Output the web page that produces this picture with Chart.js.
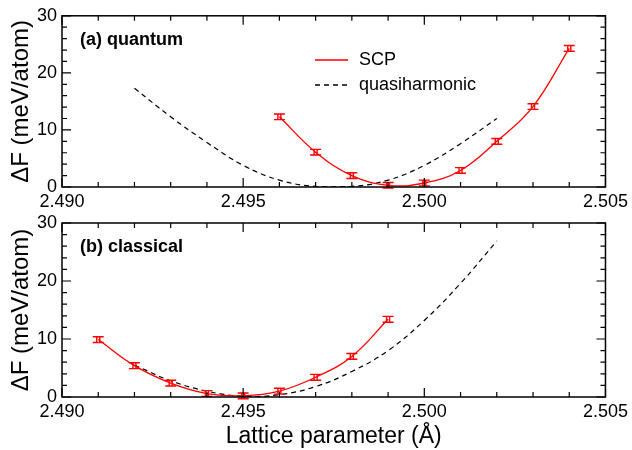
<!DOCTYPE html>
<html>
<head>
<meta charset="utf-8">
<script src="https://cdn.jsdelivr.net/npm/chart.js@4"></script>
<style>
  body { margin: 0; background: #fff; }
  #wrap { position: relative; width: 632px; height: 450px; }
  canvas { position: absolute; left: 0; top: 0; }
</style>
</head>
<body>
<div id="wrap">
  <canvas id="quantumChart" width="632" height="450"></canvas>
  <canvas id="classicalChart" width="632" height="450"></canvas>
</div>
<script>
// (a) quantum: SCP points with error bars, quasiharmonic curve
const latticeQuantum = [2.496, 2.497, 2.498, 2.499, 2.500, 2.501, 2.502, 2.503, 2.504];
const scpQuantum = [12.3, 6.1, 2.0, 0.3, 0.7, 2.9, 8.0, 14.1, 24.3];
const scpQuantumErr = [0.5, 0.5, 0.5, 0.5, 0.5, 0.5, 0.5, 0.5, 0.5];
const qhLatticeQuantum = [2.492, 2.493, 2.494, 2.495, 2.496, 2.497, 2.498, 2.499, 2.500, 2.501, 2.502];
const qhQuantum = [17.3, 12.3, 7.8, 3.8, 1.2, 0.1, 0.1, 1.2, 3.8, 7.6, 12.0];

// (b) classical
const latticeClassical = [2.491, 2.492, 2.493, 2.494, 2.495, 2.496, 2.497, 2.498, 2.499];
const scpClassical = [9.9, 5.4, 2.4, 0.6, 0.2, 1.0, 3.4, 7.0, 13.4];
const scpClassicalErr = [0.5, 0.5, 0.5, 0.5, 0.5, 0.5, 0.5, 0.5, 0.5];
const qhLatticeClassical = [2.492, 2.493, 2.494, 2.495, 2.496, 2.497, 2.498, 2.499, 2.500, 2.501, 2.502];
const qhClassical = [5.5, 2.8, 1.0, 0.15, 0.4, 1.8, 4.4, 8.0, 13.2, 19.6, 26.9];

const legendLabels = ['SCP', 'quasiharmonic'];
const panelLabels = ['(a) quantum', '(b) classical'];
const xTitle = 'Lattice parameter (Å)';
const yTitle = 'ΔF (meV/atom)';

const FONT = "'Liberation Sans', Arial, Helvetica, sans-serif";

function toPoints(xs, ys) {
    return xs.map((x, i) => ({ x: x, y: ys[i] }));
}

function isMajorX(v) {
    return Math.round(v * 1000) % 5 === 0;
}

// draws frame, inward ticks, error bars, panel label and legend
const decorPlugin = {
    id: 'decor',
    afterDatasetsDraw(chart, args, opts) {
        const ctx = chart.ctx;
        const a = chart.chartArea;
        const xs = chart.scales.x;
        const ys = chart.scales.y;
        ctx.save();

        // error bars on the SCP dataset
        const ds = chart.data.datasets[0];
        ctx.strokeStyle = '#ff0000';
        ctx.lineWidth = 1.4;
        ds.data.forEach((p, i) => {
            const px = xs.getPixelForValue(p.x);
            const top = ys.getPixelForValue(p.y + opts.err[i]);
            const bot = ys.getPixelForValue(p.y - opts.err[i]);
            ctx.beginPath();
            ctx.moveTo(px - 5.5, top); ctx.lineTo(px + 5.5, top);
            ctx.moveTo(px - 5.5, bot); ctx.lineTo(px + 5.5, bot);
            ctx.moveTo(px - 1.5, top); ctx.lineTo(px - 1.5, bot);
            ctx.moveTo(px + 1.5, top); ctx.lineTo(px + 1.5, bot);
            ctx.stroke();
        });

        // frame
        ctx.strokeStyle = '#000';
        ctx.lineWidth = 1.5;
        ctx.strokeRect(a.left, a.top, a.right - a.left, a.bottom - a.top);

        // inward ticks on all four sides
        ctx.lineWidth = 1.2;
        ctx.beginPath();
        xs.ticks.forEach(t => {
            const px = xs.getPixelForValue(t.value);
            const len = isMajorX(t.value) ? 9 : 5;
            ctx.moveTo(px, a.bottom); ctx.lineTo(px, a.bottom - len);
            ctx.moveTo(px, a.top); ctx.lineTo(px, a.top + len);
        });
        ys.ticks.forEach(t => {
            const py = ys.getPixelForValue(t.value);
            const len = Math.round(t.value) % 10 === 0 ? 9 : 5;
            ctx.moveTo(a.left, py); ctx.lineTo(a.left + len, py);
            ctx.moveTo(a.right, py); ctx.lineTo(a.right - len, py);
        });
        ctx.stroke();

        // panel label
        ctx.fillStyle = '#000';
        ctx.font = 'bold 18px ' + FONT;
        ctx.textBaseline = 'middle';
        ctx.textAlign = 'left';
        ctx.fillText(opts.label, a.left + 18, a.top + 24);

        // legend
        if (opts.legend) {
            ctx.font = '18px ' + FONT;
            const lx = 315, ly = 60;
            ctx.lineWidth = 1.3;
            ctx.strokeStyle = '#ff0000';
            ctx.beginPath(); ctx.moveTo(lx, ly); ctx.lineTo(lx + 33, ly); ctx.stroke();
            ctx.strokeStyle = '#000';
            ctx.setLineDash([5, 4]);
            ctx.beginPath(); ctx.moveTo(lx, ly + 25); ctx.lineTo(lx + 33, ly + 25); ctx.stroke();
            ctx.setLineDash([]);
            ctx.fillText(legendLabels[0], lx + 44, ly);
            ctx.fillText(legendLabels[1], lx + 44, ly + 25);
        }
        ctx.restore();
    }
};

function makeChart(id, scpX, scpY, scpErr, qhX, qhY, opt) {
    const ctx = document.getElementById(id).getContext('2d');
    return new Chart(ctx, {
        type: 'scatter',
        data: {
            datasets: [
                {
                    label: legendLabels[0],
                    data: toPoints(scpX, scpY),
                    borderColor: '#ff0000',
                    borderWidth: 1.3,
                    showLine: true,
                    tension: 0.4,
                    pointRadius: 0
                },
                {
                    label: legendLabels[1],
                    data: toPoints(qhX, qhY),
                    borderColor: '#000000',
                    borderWidth: 1.2,
                    borderDash: [5, 4],
                    showLine: true,
                    tension: 0.4,
                    pointRadius: 0
                }
            ]
        },
        options: {
            responsive: false,
            animation: false,
            layout: { padding: { left: 0, right: 25, top: opt.top, bottom: opt.bottom } },
            plugins: {
                legend: { display: false },
                tooltip: { enabled: false },
                decor: { err: scpErr, label: opt.label, legend: opt.legend }
            },
            scales: {
                x: {
                    type: 'linear',
                    min: 2.490,
                    max: 2.505,
                    grid: { display: false, drawTicks: false },
                    border: { display: false },
                    ticks: {
                        stepSize: 0.001,
                        autoSkip: false,
                        maxRotation: 0,
                        padding: 4,
                        color: '#000',
                        font: { family: FONT, size: 18 },
                        callback: v => isMajorX(v) ? (Math.round(v * 1000) / 1000).toFixed(3) : ''
                    },
                    title: {
                        display: opt.xTitle,
                        text: xTitle,
                        color: '#000',
                        font: { family: FONT, size: 23 },
                        padding: { top: 1, bottom: 0 }
                    },
                    afterFit: s => { s.height = opt.xHeight; }
                },
                y: {
                    min: 0,
                    max: 30,
                    grid: { display: false, drawTicks: false },
                    border: { display: false },
                    ticks: {
                        stepSize: 2,
                        autoSkip: false,
                        padding: 5,
                        color: '#000',
                        font: { family: FONT, size: 18 },
                        callback: v => Math.round(v) % 10 === 0 ? String(Math.round(v)) : ''
                    },
                    title: {
                        display: true,
                        text: yTitle,
                        color: '#000',
                        font: { family: FONT, size: 24 },
                        padding: { top: 7, bottom: 0 }
                    },
                    afterFit: s => { s.width = 62; }
                }
            }
        },
        plugins: [decorPlugin]
    });
}

makeChart('quantumChart', latticeQuantum, scpQuantum, scpQuantumErr, qhLatticeQuantum, qhQuantum,
    { top: 14, bottom: 233, xHeight: 30, xTitle: false, label: panelLabels[0], legend: true });
makeChart('classicalChart', latticeClassical, scpClassical, scpClassicalErr, qhLatticeClassical, qhClassical,
    { top: 223, bottom: 0, xHeight: 53, xTitle: true, label: panelLabels[1], legend: false });
</script>
</body>
</html>
